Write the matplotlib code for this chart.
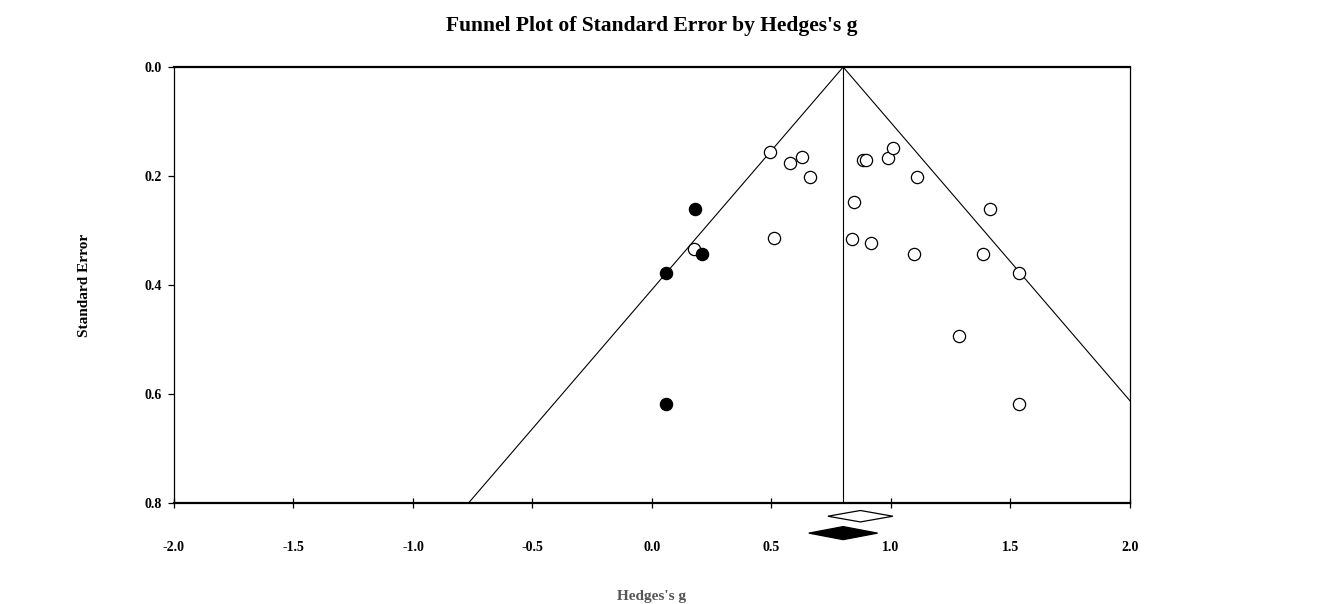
#!/usr/bin/env python3
"""Funnel plot of standard error by Hedges's g (with trim-and-fill)."""

import matplotlib

matplotlib.use("Agg")

import matplotlib.pyplot as plt
from matplotlib.patches import Polygon

# observed studies (open circles)
OBS_G = [0.494, 0.577, 0.628, 0.661, 0.510, 0.176,
         0.883, 0.897, 0.987, 1.008, 1.109, 0.845, 1.414, 0.837,
         0.916, 1.096, 1.385, 1.536, 1.285, 1.536]
OBS_SE = [0.156, 0.176, 0.165, 0.202, 0.314, 0.334,
          0.171, 0.171, 0.167, 0.149, 0.202, 0.248, 0.261, 0.316,
          0.323, 0.343, 0.343, 0.378, 0.494, 0.618]

# imputed studies (filled circles)
IMP_G = [0.180, 0.209, 0.059, 0.059]
IMP_SE = [0.261, 0.343, 0.378, 0.618]

# combined effects: (centre, half width)
OBS_MEAN = (0.872, 0.136)
ADJ_MEAN = (0.800, 0.144)

X_TICKS = [-2.0, -1.5, -1.0, -0.5, 0.0, 0.5, 1.0, 1.5, 2.0]
Y_TICKS = [0.0, 0.2, 0.4, 0.6, 0.8]

plt.rcParams["font.family"] = ["Liberation Serif", "DejaVu Serif"]
plt.rcParams["font.weight"] = "bold"

fig = plt.figure(figsize=(13.17, 6.04), dpi=100)
ax = fig.add_axes([0.1321, 0.167, 0.7259, 0.722])

ax.set_xlim(-2.0, 2.0)
ax.set_ylim(0.8, 0.0)

# funnel
mean = ADJ_MEAN[0]
se_max = 0.8
ax.plot([mean - 1.96 * se_max, mean, mean + 1.96 * se_max],
        [se_max, 0.0, se_max], color="black", lw=0.8)
ax.plot([mean, mean], [0.0, se_max], color="black", lw=0.8)

ax.plot(OBS_G, OBS_SE, "o", ms=8.8, mfc="white", mec="black", mew=0.9,
        zorder=3)
ax.plot(IMP_G, IMP_SE, "o", ms=8.8, mfc="black", mec="black", mew=0.9,
        zorder=3)


def diamond(center, half, y, hh, face):
    pts = [(center - half, y), (center, y - hh), (center + half, y),
           (center, y + hh)]
    ax.add_patch(Polygon(pts, closed=True, facecolor=face,
                         edgecolor="black", lw=0.9, clip_on=False))


diamond(OBS_MEAN[0], OBS_MEAN[1], 0.824, 0.0105, "white")
diamond(ADJ_MEAN[0], ADJ_MEAN[1], 0.855, 0.0120, "black")

ax.set_xticks(X_TICKS)
ax.set_xticklabels([f"{v:.1f}" for v in X_TICKS])
ax.set_yticks(Y_TICKS)
ax.set_yticklabels([f"{v:.1f}" for v in Y_TICKS])
ax.tick_params(axis="x", direction="inout", length=7, width=0.9,
               pad=24, labelsize=10)
ax.tick_params(axis="y", direction="out", length=4, width=0.9,
               pad=5, labelsize=10)

for side in ("left", "right"):
    ax.spines[side].set_linewidth(0.9)
for side in ("top", "bottom"):
    ax.spines[side].set_linewidth(1.6)

ax.set_ylabel("Standard Error", fontsize=11, fontweight="bold", labelpad=38)

fig.text(0.4951, 0.002, "Hedges's g", ha="center", va="bottom",
         fontsize=11, fontweight="bold", color="#555555")
fig.text(0.4951, 0.957, "Funnel Plot of Standard Error by Hedges's g",
         ha="center", va="center", fontsize=15.5, fontweight="bold")

fig.savefig("out.png", dpi=100)
